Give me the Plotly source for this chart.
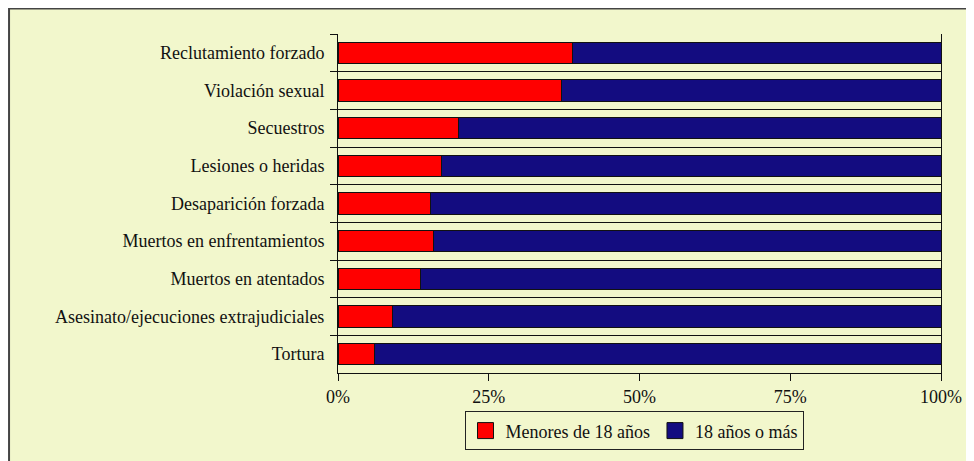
import plotly.graph_objects as go

categories = [
    "Reclutamiento forzado",
    "Violación sexual",
    "Secuestros",
    "Lesiones o heridas",
    "Desaparición forzada",
    "Muertos en enfrentamientos",
    "Muertos en atentados",
    "Asesinato/ejecuciones extrajudiciales",
    "Tortura",
]
menores = [38.9, 37.1, 19.9, 17.2, 15.4, 15.8, 13.7, 9.0, 6.1]
adultos = [round(100 - v, 1) for v in menores]
series_names = ["Menores de 18 años", "18 años o más"]
x_ticks = [0, 25, 50, 75, 100]
x_ticktext = ["0%", "25%", "50%", "75%", "100%"]

FONT = "Liberation Serif"
BG = "#F2F7CC"
COLORS = ["#FF0000", "#130C80"]

# page has an 8px body margin; figure sized to fit the window
OFF = 8
W, H = 974 - OFF, 461 - OFF
PL, PR, PT, PB = 337.5, 941.5, 33.5, 373.5  # plot area in page pixels
L, T = PL - OFF, PT - OFF
R, B = W - (PR - OFF), H - (PB - OFF)
pw, ph = W - L - R, H - T - B

def px_x(x):
    return (x - OFF - L) / pw

def px_y(y):
    return (H - B - (y - OFF)) / ph

fig = go.Figure()
for vals, name, col in zip([menores, adultos], series_names, COLORS):
    fig.add_trace(go.Bar(
        y=categories, x=vals, orientation="h", name=name,
        marker=dict(color=col, line=dict(color="#111111", width=1)),
        width=0.56, showlegend=False, legendgroup=name,
    ))
# legend entries with larger square swatches
for name, col in zip(series_names, COLORS):
    fig.add_trace(go.Scatter(
        x=[None], y=[None], mode="markers", name=name, legendgroup=name,
        marker=dict(symbol="square", size=19, color=col,
                    line=dict(color="#111111", width=1)),
        showlegend=True, hoverinfo="skip",
    ))

fig.update_layout(
    barmode="stack",
    width=W, height=H,
    margin=dict(l=L, r=R, t=T, b=B, autoexpand=False),
    paper_bgcolor="white",
    plot_bgcolor="rgba(0,0,0,0)",
    font=dict(family=FONT, size=18, color="#111111"),
    showlegend=True,
    legend=dict(
        orientation="h", x=px_x(634), xanchor="center", y=px_y(412), yanchor="top",
        bordercolor="#222222", borderwidth=1, bgcolor="rgba(0,0,0,0)",
        font=dict(family=FONT, size=18), traceorder="normal",
        itemsizing="trace", itemwidth=30,
    ),
    xaxis=dict(
        range=[0, 100], tickvals=x_ticks, ticktext=x_ticktext,
        showgrid=False, zeroline=False, showline=True, linecolor="#111111", linewidth=1,
        ticks="outside", ticklen=7, tickcolor="#111111", tickwidth=1,
        tickfont=dict(family=FONT, size=18),
    ),
    yaxis=dict(
        type="category", autorange="reversed", tickson="boundaries",
        categoryorder="array", categoryarray=categories,
        showgrid=True, gridcolor="#111111", gridwidth=1,
        showline=True, linecolor="#111111", linewidth=1, mirror=True,
        ticks="outside", ticklen=7, tickcolor="#111111",
        tickfont=dict(family=FONT, size=18), ticklabelstandoff=9,
    ),
    bargap=0.44,
    shapes=[
        dict(type="rect", xref="paper", yref="paper", layer="below",
             x0=px_x(8), x1=px_x(1010), y0=px_y(8), y1=px_y(520),
             fillcolor=BG, line=dict(color="#444444", width=2)),
    ],
)

fig.write_html("out.html")
